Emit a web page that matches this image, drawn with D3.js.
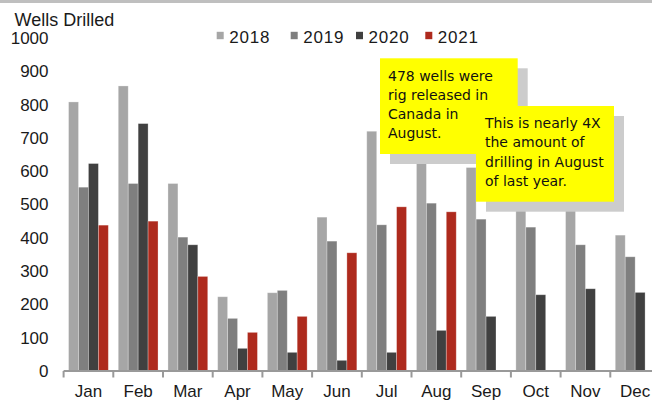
<!DOCTYPE html>
<html>
<head>
<meta charset="utf-8">
<script src="https://cdn.jsdelivr.net/npm/d3@7/dist/d3.min.js"></script>
<style>
  html, body { margin: 0; padding: 0; background: #fff; }
  svg { display: block; }
  text { font-family: "Liberation Sans", Arial, sans-serif; fill: #1a1a1a; }
  .note { font-family: "Comic Sans MS", "DejaVu Sans", sans-serif; font-size: 14px; fill: #111; }
</style>
</head>
<body>
<svg id="chart" width="652" height="401"></svg>
<script>
// Monthly wells drilled (rig released), Canada
const months = ["Jan","Feb","Mar","Apr","May","Jun","Jul","Aug","Sep","Oct","Nov","Dec"];
const years = ["2018","2019","2020","2021"];
const wells2018 = [808, 856, 563, 223, 235, 462, 720, 660, 611, 560, 515, 408];
const wells2019 = [552, 563, 402, 158, 242, 390, 439, 504, 456, 432, 379, 343];
const wells2020 = [623, 743, 379, 68, 56, 32, 56, 122, 164, 229, 247, 236];
const wells2021 = [438, 450, 284, 116, 164, 355, 493, 478, null, null, null, null];
const yTicks = [0, 100, 200, 300, 400, 500, 600, 700, 800, 900, 1000];
const colors = ["#a6a6a6", "#7f7f7f", "#404040", "#ae2a1d"];
const note1 = ["478 wells were", "rig released in", "Canada in", "August."];
const note2 = ["This is nearly 4X", "the amount of", "drilling in August", "of last year."];

const series = [wells2018, wells2019, wells2020, wells2021];
const svg = d3.select("#chart");

// frame strip along the top edge
svg.append("rect").attr("x", 0).attr("y", 0).attr("width", 652).attr("height", 3).attr("fill", "#bfbfbf");

const x0 = d3.scaleBand().domain(months).range([63.6, 660]).paddingInner(0.2).paddingOuter(0.1);
const x1 = d3.scaleBand().domain(years).range([0, x0.bandwidth()]);
const y = d3.scaleLinear().domain([0, 1000]).range([371, 38]);

// y tick labels (no axis line)
const yAxis = d3.axisLeft(y).tickValues(yTicks).tickSize(0).tickPadding(0).tickFormat(d3.format("d"));
const gy = svg.append("g").attr("transform", "translate(48.5,0)").call(yAxis);
gy.select(".domain").remove();
gy.selectAll("text").attr("font-size", 17).attr("fill", "#1a1a1a")
  .attr("font-family", "'Liberation Sans', Arial, sans-serif");

// title
svg.append("text").attr("x", 14.5).attr("y", 25.5).attr("font-size", 18).text("Wells Drilled");

// bars
const rows = [];
months.forEach((m, i) => years.forEach((yr, j) => {
  const v = series[j][i];
  if (v != null) rows.push({ m, yr, v, c: colors[j] });
}));
svg.append("g").selectAll("rect").data(rows).join("rect")
  .attr("x", d => x0(d.m) + x1(d.yr))
  .attr("y", d => y(d.v))
  .attr("width", x1.bandwidth())
  .attr("height", d => y(0) - y(d.v))
  .attr("fill", d => d.c)
  .attr("stroke", "rgba(255,255,255,0.35)")
  .attr("stroke-width", 0.8);

// x axis with ticks between categories
const step = x0.step();
const gx = svg.append("g");
gx.append("line").attr("x1", x0.range()[0]).attr("x2", 652).attr("y1", y(0)).attr("y2", y(0))
  .attr("stroke", "#999").attr("stroke-width", 2);
const bounds = months.map(m => x0(m) - step * x0.paddingInner() / 2);
gx.selectAll(".tk").data(bounds).join("line").attr("class", "tk")
  .attr("x1", d => d).attr("x2", d => d).attr("y1", y(0)).attr("y2", y(0) + 6.5)
  .attr("stroke", "#999").attr("stroke-width", 2);
gx.selectAll(".ml").data(months).join("text").attr("class", "ml")
  .attr("x", m => x0(m) + x0.bandwidth() / 2).attr("y", 396.5)
  .attr("text-anchor", "middle").attr("font-size", 17).text(m => m);

// legend
const legendX = [216.7, 290.7, 356, 425.3];
const lg = svg.append("g").selectAll("g").data(years).join("g")
  .attr("transform", (d, i) => `translate(${legendX[i]},0)`);
lg.append("rect").attr("x", 0).attr("y", 31.8).attr("width", 7).attr("height", 7.4).attr("fill", (d, i) => colors[i]);
lg.append("text").attr("x", 12.5).attr("y", 43.3).attr("font-size", 17).attr("letter-spacing", 0.8).text(d => d);

// callout boxes with drop shadows
function callout(bx, by, bw, bh, lines, tx, ty) {
  const g = svg.append("g");
  g.append("rect").attr("x", bx + 10).attr("y", by + 10).attr("width", bw).attr("height", bh).attr("fill", "#cccccc");
  g.append("rect").attr("x", bx).attr("y", by).attr("width", bw).attr("height", bh).attr("fill", "#ffff00");
  g.selectAll("text").data(lines).join("text").attr("class", "note")
    .attr("x", tx).attr("y", (d, i) => ty + i * 19.3).text(d => d);
}
callout(380, 58.3, 137.7, 95.7, note1, 388, 80.5);
callout(476, 106, 138, 95.7, note2, 485, 128);
</script>
</body>
</html>
